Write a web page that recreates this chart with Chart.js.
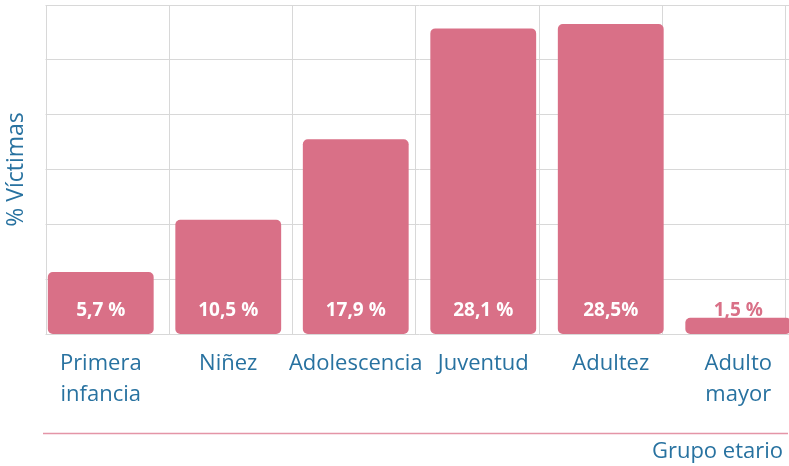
<!DOCTYPE html>
<html>
<head>
<meta charset="utf-8">
<script src="https://cdn.jsdelivr.net/npm/chart.js@4/dist/chart.umd.min.js"></script>
<style>
  html, body { margin:0; padding:0; background:#fff; overflow:hidden; }
  #wrap { width:789px; height:466px; overflow:hidden; position:relative; }
  canvas { display:block; }
</style>
</head>
<body>
<div id="wrap"><canvas id="c" width="802" height="466"></canvas></div>
<script>
const categories = [['Primera','infancia'], 'Niñez', 'Adolescencia', 'Juventud', 'Adultez', ['Adulto','mayor']];
const victimPercent = [5.7, 10.5, 17.9, 28.1, 28.5, 1.5];
const valueLabels = ['5,7 %', '10,5 %', '17,9 %', '28,1 %', '28,5%', '1,5 %'];
const yTitle = '% Víctimas';
const xTitle = 'Grupo etario';

const BAR = '#D97087';
const TEAL = '#2872A0';
const GRID = '#D8D8D8';
const FONT = "'Open Sans', 'Noto Sans', sans-serif";

const decor = {
  id: 'decor',
  beforeDatasetsDraw(chart) {
    // trim grid to the grid box start
    const {ctx, chartArea} = chart;
    const gx = chart.scales.x2.getPixelForValue(0);
    ctx.save();
    ctx.fillStyle = '#fff';
    ctx.fillRect(chartArea.left - 1, chartArea.top - 2, gx - chartArea.left + 0.5, chartArea.bottom - chartArea.top + 4);
    ctx.restore();
  },
  afterDatasetsDraw(chart) {
    const {ctx} = chart;
    const meta = chart.getDatasetMeta(0);
    const y = chart.scales.y;
    const base = y.getPixelForValue(0);
    ctx.save();
    ctx.font = "bold 19px " + FONT;
    ctx.textAlign = 'center';
    ctx.textBaseline = 'middle';
    meta.data.forEach((bar, i) => {
      const h = base - bar.y;
      ctx.fillStyle = h > 30 ? '#fff' : BAR;
      ctx.fillText(valueLabels[i], bar.x, base - 23);
    });
    ctx.restore();
  },
  afterDraw(chart) {
    const {ctx} = chart;
    const gx = chart.scales.x2.getPixelForValue(0);
    ctx.save();
    ctx.strokeStyle = '#E495A7';
    ctx.lineWidth = 1.5;
    ctx.beginPath();
    ctx.moveTo(gx - 3, 433.5);
    ctx.lineTo(788, 433.5);
    ctx.stroke();
    ctx.fillStyle = TEAL;
    ctx.font = "22px " + FONT;
    ctx.textAlign = 'right';
    ctx.textBaseline = 'middle';
    ctx.fillText(xTitle, 783, 452);
    ctx.restore();
  }
};

new Chart(document.getElementById('c'), {
  type: 'bar',
  data: {
    labels: categories,
    datasets: [{
      data: victimPercent,
      backgroundColor: BAR,
      borderRadius: 5,
      borderSkipped: false,
      categoryPercentage: 1,
      barPercentage: 0.83,
      xAxisID: 'x',
      yAxisID: 'y'
    }]
  },
  options: {
    responsive: false,
    animation: false,
    devicePixelRatio: 1,
    layout: { padding: { top: 5, right: 0, bottom: 0, left: 0 } },
    plugins: { legend: { display: false }, tooltip: { enabled: false } },
    scales: {
      x: {
        type: 'category',
        position: 'bottom',
        grid: { display: false, drawTicks: false },
        border: { display: false },
        ticks: {
          color: TEAL,
          font: { family: FONT, size: 22, lineHeight: 1.38 },
          padding: 15,
          autoSkip: false,
          maxRotation: 0,
          minRotation: 0
        },
        afterFit(s) { s.height = 132; }
      },
      x2: {
        type: 'linear',
        position: 'top',
        offset: false,
        min: -0.073,
        max: 6.13,
        grid: { display: true, offset: false, color: GRID, lineWidth: 1, drawTicks: false },
        border: { display: false },
        ticks: { display: false, stepSize: 1, includeBounds: false },
        afterFit(s) { s.height = 0; }
      },
      y: {
        type: 'linear',
        position: 'left',
        min: 0,
        max: 30.25,
        grid: { display: false, drawTicks: false },
        border: { display: false },
        ticks: { display: false },
        title: {
          display: true,
          text: yTitle,
          color: TEAL,
          font: { family: FONT, size: 23 },
          padding: { top: 3, bottom: 0 }
        },
        afterFit(s) { s.width = 37; }
      },
      y2: {
        type: 'linear',
        position: 'left',
        offset: false,
        min: 0,
        max: 6,
        grid: { display: true, offset: false, color: GRID, lineWidth: 1, drawTicks: false },
        border: { display: false },
        ticks: { display: false, stepSize: 1 },
        afterFit(s) { s.width = 0; }
      }
    }
  },
  plugins: [decor]
});
</script>
</body>
</html>
